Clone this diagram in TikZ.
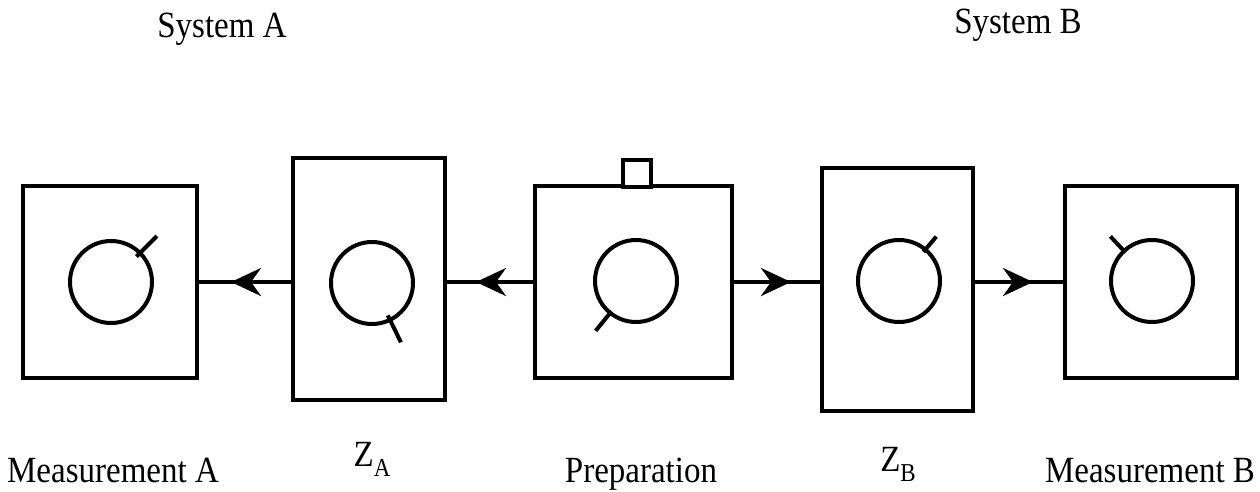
\documentclass[tikz,border=0pt]{standalone}
\usepackage{fontspec}
\setmainfont{Liberation Serif}
\usetikzlibrary{arrows.meta,decorations.markings}
\tikzset{
  box/.style={draw, line width=4pt, inner sep=0pt, rectangle},
  dial/.style={draw, line width=4pt, circle, inner sep=0pt, minimum size=82pt},
  pointer/.style={line width=4pt},
  lbl/.style={inner sep=0pt, anchor=base, font=\fontsize{33}{36}\selectfont},
  link/.style={line width=4pt, decoration={markings,
    mark=at position 0.5 with {\arrow[xshift=14pt]{Stealth[length=30pt,width=28pt,inset=10pt]}}},
    postaction={decorate}}
}
\newcommand{\tall}[1]{\scalebox{1}[1.12]{#1}}
\newcommand{\sbs}[1]{\raisebox{-0.28em}{\fontsize{23}{24}\selectfont #1}}
\begin{document}
\begin{tikzpicture}[x=1pt,y=-1pt]
\useasboundingbox (0,0) rectangle (1260,491);
% boxes
\node[box, minimum width=174pt, minimum height=192pt] (b1) at (110,282) {};
\node[box, minimum width=152pt, minimum height=242pt] (b2) at (369,279) {};
\node[box, minimum width=197pt, minimum height=192pt] (b3) at (633.5,282) {};
\node[box, minimum width=28pt, minimum height=27pt, fill=white] (sq) at (636.5,173) {};
\node[box, minimum width=151pt, minimum height=243pt] (b4) at (897.5,289.5) {};
\node[box, minimum width=172pt, minimum height=192pt] (b5) at (1151,282) {};
% dials
\node[dial] (c1) at (111,282) {};
\node[dial] (c2) at (372,283) {};
\node[dial] (c3) at (636,281) {};
\node[dial] (c4) at (899,281) {};
\node[dial] (c5) at (1152,281) {};
\draw[pointer] ([shift={(-45:36)}]c1.center) -- ([shift={(-45:65)}]c1.center);
\draw[pointer] ([shift={(64:36)}]c2.center) -- ([shift={(64:66)}]c2.center);
\draw[pointer] ([shift={(129:39)}]c3.center) -- ([shift={(129:64)}]c3.center);
\draw[pointer] ([shift={(-50:38)}]c4.center) -- ([shift={(-50:58)}]c4.center);
\draw[pointer] ([shift={(-133:39)}]c5.center) -- ([shift={(-133:61)}]c5.center);
% connectors
\draw[link] (b2.west |- b1.east) -- (b1.east);
\draw[link] (b3.west) -- (b2.east |- b3.west);
\draw[link] (b3.east) -- (b4.west |- b3.east);
\draw[link] (b4.east |- b5.west) -- (b5.west);
% labels
\node[lbl] (tsa) at (222,37) {\tall{System A}};
\node[lbl] (tsb) at (1018,33) {\tall{System B}};
\node[lbl] (tma) at (113,482) {\tall{Measurement A}};
\node[lbl] (tza) at (372,466) {\tall{Z\sbs{A}}};
\node[lbl] (tpr) at (641,482) {\tall{Preparation}};
\node[lbl] (tzb) at (898,471) {\tall{Z\sbs{B}}};
\node[lbl] (tmb) at (1150,482) {\tall{Measurement B}};
\end{tikzpicture}
\end{document}
